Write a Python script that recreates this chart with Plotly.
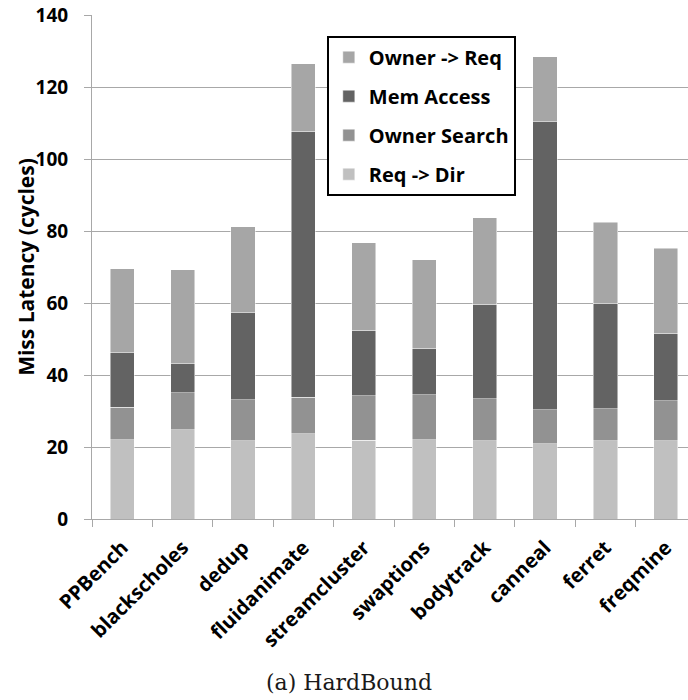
import plotly.graph_objects as go

# Benchmarks on the x axis
benchmarks = ["PPBench", "blackscholes", "dedup", "fluidanimate", "streamcluster",
              "swaptions", "bodytrack", "canneal", "ferret", "freqmine"]

# Miss latency components (cycles), stacked bottom to top
req_to_dir = [22.0, 24.8, 21.8, 23.7, 21.9, 22.0, 21.75, 20.9, 21.75, 21.75]
owner_search = [9.1, 10.3, 11.3, 10.1, 12.3, 12.5, 11.65, 9.5, 8.85, 11.15]
mem_access = [15.1, 8.0, 24.2, 73.9, 18.25, 12.9, 26.3, 79.9, 29.2, 18.7]
owner_to_req = [23.3, 26.2, 23.9, 18.7, 24.3, 24.6, 24.0, 18.1, 22.6, 23.6]

y_ticks = [0, 20, 40, 60, 80, 100, 120, 140]

# (name, values, colour, legend rank) — legend lists the top segment first
series = [
    ("Req -> Dir", req_to_dir, "#c0c0c0", 4),
    ("Owner Search", owner_search, "#929292", 3),
    ("Mem Access", mem_access, "#636363", 2),
    ("Owner -> Req", owner_to_req, "#a6a6a6", 1),
]

FONT = "Open Sans"
GRID = "#a8a8a8"

fig = go.Figure()
for name, vals, color, rank in series:
    fig.add_trace(go.Bar(
        name=name, x=benchmarks, y=vals, legendgroup=name, legendrank=rank,
        marker=dict(color=color, line=dict(width=0.8, color="rgba(255,255,255,0.6)")),
    ))

fig.update_layout(
    width=688, height=700,
    barmode="stack", bargap=0.6,
    paper_bgcolor="white", plot_bgcolor="white",
    margin=dict(l=92, r=0, t=15, b=181),
    font=dict(family=FONT, color="black"),
    legend=dict(
        x=0.394, y=0.959, xanchor="left", yanchor="top",
        traceorder="grouped", tracegroupgap=10,
        bordercolor="black", borderwidth=2, bgcolor="white",
        font=dict(family=FONT, size=20, weight="bold", color="black"),
    ),
    xaxis=dict(
        type="category", range=[-0.5, 9.367],
        tickangle=-45, tickson="boundaries", ticks="outside", ticklen=7,
        tickcolor=GRID, showline=True, linecolor=GRID, linewidth=1,
        showgrid=False, ticklabelstandoff=8,
        tickfont=dict(family=FONT, size=20, weight="bold", color="black"),
    ),
    yaxis=dict(
        range=[0, 140], tickvals=y_ticks, ticks="outside", ticklen=7,
        tickcolor=GRID, showline=True, linecolor=GRID, linewidth=1,
        showgrid=True, gridcolor=GRID, gridwidth=1, zeroline=False,
        ticklabelstandoff=12,
        tickfont=dict(family=FONT, size=19, weight="bold", color="black"),
    ),
    annotations=[
        dict(
            text="Miss Latency (cycles)", xref="paper", yref="paper",
            x=-0.111, y=0.5, xanchor="center", yanchor="middle",
            textangle=-90, showarrow=False,
            font=dict(family=FONT, size=21, weight="bold", color="black"),
        ),
        dict(
            text="(a) HardBound", xref="paper", yref="paper",
            x=0.431, y=-0.325, xanchor="center", yanchor="middle", showarrow=False,
            font=dict(family="DejaVu Serif", size=22, color="#1a1a1a"),
        ),
    ],
)

fig.write_html("out.html")
